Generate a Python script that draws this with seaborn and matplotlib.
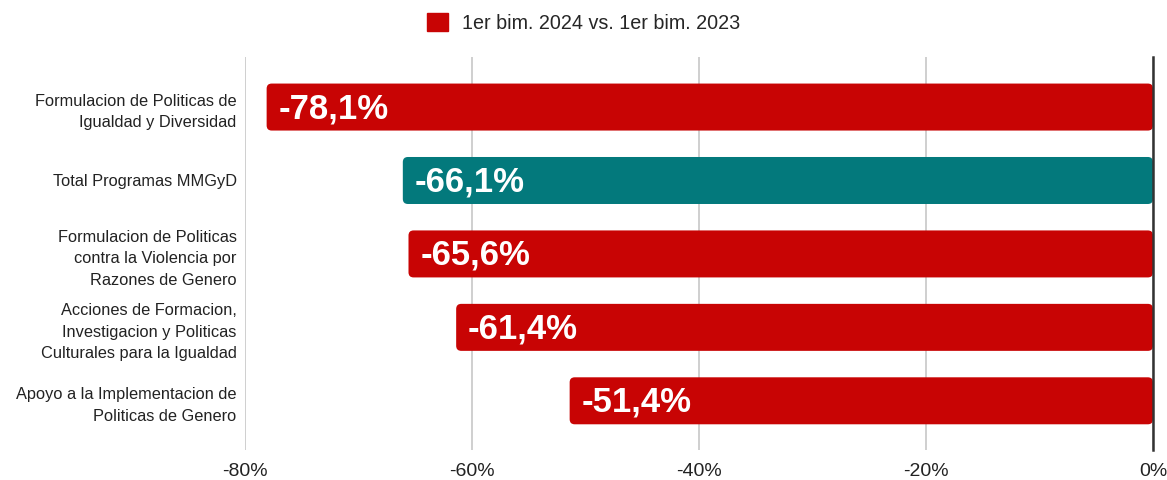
import matplotlib.pyplot as plt
import numpy as np
import pandas as pd
import seaborn as sns
from matplotlib.patches import Patch, FancyBboxPatch

# Data
programas = [
    "Formulacion de Politicas de\nIgualdad y Diversidad",
    "Total Programas MMGyD",
    "Formulacion de Politicas\ncontra la Violencia por\nRazones de Genero",
    "Acciones de Formacion,\nInvestigacion y Politicas\nCulturales para la Igualdad",
    "Apoyo a la Implementacion de\nPoliticas de Genero",
]
variacion = [-78.1, -66.1, -65.6, -61.4, -51.4]
es_total = [False, True, False, False, False]
serie = "1er bim. 2024 vs. 1er bim. 2023"
ticks_x = [-80, -60, -40, -20, 0]

ROJO = "#c80404"
VERDE = "#03797c"

df = pd.DataFrame({"programa": programas, "variacion": variacion,
                   "tipo": ["total" if t else "programa" for t in es_total]})

sns.set_theme(style="white")
plt.rcParams["font.family"] = ["Liberation Sans", "DejaVu Sans"]

fig = plt.figure(figsize=(11.67, 4.8), dpi=100)
ax = fig.add_axes([0.21, 0.0625, 0.778, 0.8185])

sns.barplot(data=df, x="variacion", y="programa", hue="tipo",
            palette={"programa": ROJO, "total": VERDE},
            dodge=False, width=0.64, legend=False, ax=ax, saturation=1)

ax.set_xlim(-80, 0)
ax.set_ylim(4.67, -0.68)

# rounded bar corners
aspect = (5.35 / 393) / (80 / 908)
for p in list(ax.patches):
    x0, y0 = p.get_x(), p.get_y()
    w, h = p.get_width(), p.get_height()
    if w == 0:
        continue
    rp = FancyBboxPatch((min(x0, x0 + w), y0), abs(w), h,
                        boxstyle="round,pad=0,rounding_size=0.45",
                        mutation_aspect=aspect,
                        facecolor=p.get_facecolor(), edgecolor="none", zorder=2)
    p.remove()
    ax.add_patch(rp)

for i, v in enumerate(variacion):
    ax.text(v + 1.05, i + 0.02, f"{v:.1f}%".replace(".", ","), color="white",
            fontsize=25, fontweight="bold", va="center", ha="left", zorder=3)

ax.set_xticks(ticks_x)
ax.set_xticklabels([f"{t}%" for t in ticks_x])
ax.grid(axis="x", color="#cccccc", linewidth=1.3)
ax.set_axisbelow(True)
for s in ["top", "left", "bottom"]:
    ax.spines[s].set_visible(False)
ax.spines["right"].set_color("#333333")
ax.spines["right"].set_linewidth(1.8)
ax.spines["right"].set_zorder(4)
ax.tick_params(axis="x", labelsize=14, length=0, pad=9, colors="#222222")
ax.tick_params(axis="y", labelsize=11.8, length=0, pad=6, colors="#222222")
for lbl in ax.get_yticklabels():
    lbl.set_multialignment("right")
    lbl.set_linespacing(1.55)
ax.set_xlabel("")
ax.set_ylabel("")

fig.legend(handles=[Patch(facecolor=ROJO, edgecolor=ROJO, label=serie)],
           loc="center", bbox_to_anchor=(0.5, 0.952), frameon=False,
           fontsize=14.2, handlelength=1.05, handleheight=1.05, handletextpad=0.7)

fig.savefig("out.png", dpi=100)
